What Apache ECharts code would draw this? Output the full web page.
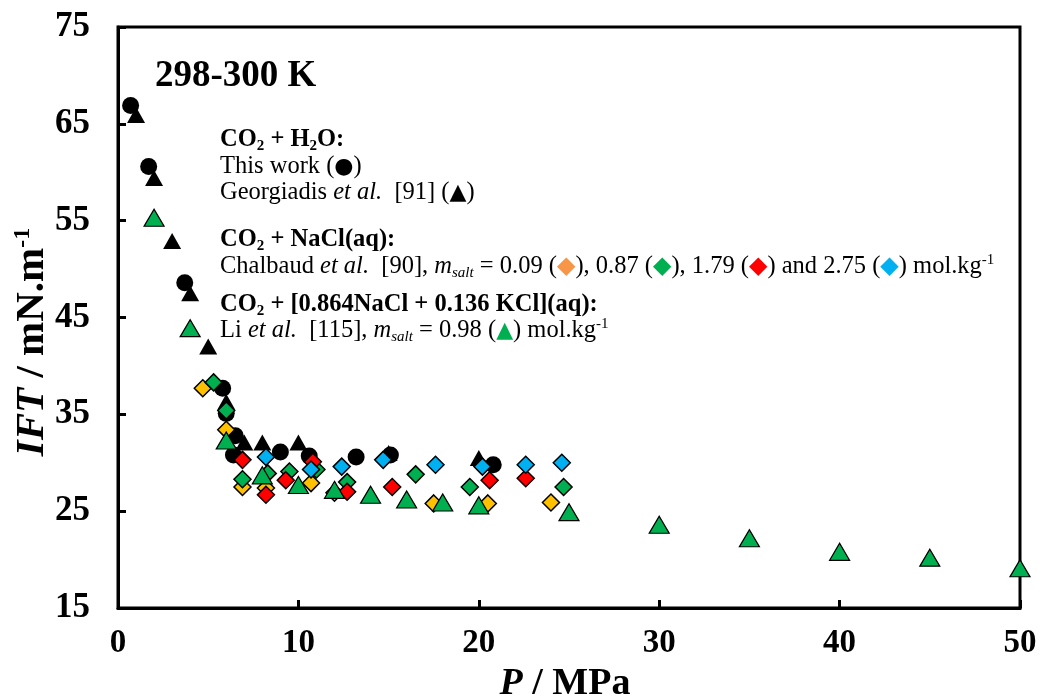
<!DOCTYPE html>
<html>
<head>
<meta charset="utf-8">
<script src="https://cdn.jsdelivr.net/npm/echarts@6/dist/echarts.min.js"></script>
<style>
  html, body { margin: 0; padding: 0; background: #fff; }
  #chart { width: 1042px; height: 698px; }
</style>
</head>
<body>
<div id="chart"></div>
<script>
// axis ticks
var xTicks = [0, 10, 20, 30, 40, 50];
var yTicks = [15, 25, 35, 45, 55, 65, 75];

// CO2 + H2O, this work (P / MPa, IFT / mN.m-1)
var thisWork = [[0.7, 66.9], [1.7, 60.6], [3.7, 48.6], [5.8, 37.7], [6.0, 35.1], [6.5, 32.8],
  [6.4, 30.8], [9.0, 31.1], [10.6, 30.7], [13.2, 30.6], [15.1, 30.8], [20.8, 29.8]];
// Georgiadis et al. [91]
var georgiadis = [[1.0, 65.9], [2.0, 59.4], [3.0, 52.9], [4.0, 47.5], [5.0, 42.0], [6.0, 36.3],
  [7.0, 32.1], [8.0, 32.1], [10.0, 32.1], [15.0, 31.0], [20.0, 30.5]];
// Chalbaud et al. [90], NaCl(aq)
var chalbaud009 = [[4.7, 37.7], [6.0, 33.4], [6.9, 27.5], [8.2, 27.4], [10.7, 27.9], [12.0, 26.9],
  [17.5, 25.8], [20.5, 25.8], [24.0, 25.9]];
var chalbaud087 = [[5.3, 38.3], [6.0, 35.4], [6.9, 28.3], [8.3, 28.9], [9.5, 29.1], [11.0, 29.3],
  [12.7, 28.0], [16.5, 28.8], [19.5, 27.5], [24.7, 27.5]];
var chalbaud179 = [[6.9, 30.3], [8.2, 26.7], [9.3, 28.2], [10.8, 30.1], [12.7, 27.0], [15.2, 27.5],
  [20.6, 28.2], [22.6, 28.4]];
var chalbaud275 = [[8.2, 30.6], [10.7, 29.3], [12.4, 29.6], [14.7, 30.3], [17.6, 29.8], [20.2, 29.6],
  [22.6, 29.8], [24.6, 30.0]];
// Li et al. [115], 0.864NaCl + 0.136KCl
var li098 = [[2.0, 55.3], [4.0, 43.9], [6.0, 32.3], [8.0, 28.7], [10.0, 27.7], [12.0, 27.2],
  [14.0, 26.7], [16.0, 26.2], [18.0, 25.9], [20.0, 25.6], [25.0, 24.9], [30.0, 23.6],
  [35.0, 22.2], [40.0, 20.8], [45.0, 20.2], [50.0, 19.1]];

var serif = 'Liberation Serif';
var chart = echarts.init(document.getElementById('chart'));

var rich = {
  b: { fontFamily: serif, fontWeight: 'bold', fontSize: 24.5, lineHeight: 28 },
  bs: { fontFamily: serif, fontWeight: 'bold', fontSize: 15, lineHeight: 14, verticalAlign: 'bottom' },
  r: { fontFamily: serif, fontSize: 24.5, lineHeight: 28 },
  i: { fontFamily: serif, fontStyle: 'italic', fontSize: 24.5, lineHeight: 28 },
  is: { fontFamily: serif, fontStyle: 'italic', fontSize: 15, lineHeight: 14, verticalAlign: 'bottom' },
  sup: { fontFamily: serif, fontSize: 15, lineHeight: 14, verticalAlign: 'top' },
  k: { fontFamily: 'DejaVu Sans', fontSize: 22, lineHeight: 28, fill: '#000' },
  o: { fontFamily: 'DejaVu Sans', fontSize: 24, lineHeight: 28, fill: '#F79646' },
  g: { fontFamily: 'DejaVu Sans', fontSize: 24, lineHeight: 28, fill: '#00B050' },
  rd: { fontFamily: 'DejaVu Sans', fontSize: 24, lineHeight: 28, fill: '#FF0000' },
  bl: { fontFamily: 'DejaVu Sans', fontSize: 24, lineHeight: 28, fill: '#00B0F0' },
  gt: { fontFamily: 'DejaVu Sans', fontSize: 22, lineHeight: 28, fill: '#00B050' }
};

function txt(x, y, text) {
  return {
    type: 'text', x: x, y: y, z: 100,
    style: { text: text, rich: rich, fill: '#000', verticalAlign: 'middle', align: 'left' }
  };
}

function diamonds(name, data, color) {
  return {
    name: name, type: 'scatter', data: data, symbol: 'diamond', symbolSize: 17,
    itemStyle: { color: color, borderColor: '#000', borderWidth: 1.5, opacity: 1 }
  };
}

chart.setOption({
  animation: false,
  backgroundColor: '#fff',
  grid: { left: 118, right: 22, top: 27, bottom: 90, show: true, borderColor: '#000', borderWidth: 3 },
  xAxis: {
    type: 'value', min: 0, max: 50,
    axisLine: { show: true, onZero: false, lineStyle: { color: '#000', width: 3 } },
    axisTick: { show: true, inside: true, length: 8, lineStyle: { color: '#000', width: 3 }, customValues: xTicks },
    axisLabel: { customValues: xTicks, margin: 19, color: '#000', fontFamily: serif, fontWeight: 'bold', fontSize: 33 },
    splitLine: { show: false }
  },
  yAxis: {
    type: 'value', min: 15, max: 75,
    axisLine: { show: true, onZero: false, lineStyle: { color: '#000', width: 3 } },
    axisTick: { show: true, inside: true, length: 8, lineStyle: { color: '#000', width: 3 }, customValues: yTicks },
    axisLabel: { customValues: yTicks, margin: 28, color: '#000', fontFamily: serif, fontWeight: 'bold', fontSize: 35 },
    splitLine: { show: false }
  },
  graphic: [
    {
      type: 'text', x: 155, y: 76, z: 100,
      style: { text: '298-300 K', fill: '#000', font: 'bold 37px "Liberation Serif"', verticalAlign: 'middle' }
    },
    txt(220, 140, '{b|CO}{bs|2}{b| + H}{bs|2}{b|O:}'),
    txt(220, 167, '{r|This work (}{k|●}{r|)}'),
    txt(220, 193, '{r|Georgiadis }{i|et al.}{r|  [91] (}{k|▲}{r|)}'),
    txt(220, 240, '{b|CO}{bs|2}{b| + NaCl(aq):}'),
    txt(220, 267, '{r|Chalbaud }{i|et al.}{r|  [90], }{i|m}{is|salt}{r| = 0.09 (}{o|◆}{r|), 0.87 (}{g|◆}{r|), 1.79 (}{rd|◆}{r|) and 2.75 (}{bl|◆}{r|) mol.kg}{sup|-1}'),
    txt(220, 305, '{b|CO}{bs|2}{b| + [0.864NaCl + 0.136 KCl](aq):}'),
    txt(220, 331, '{r|Li }{i|et al.}{r|  [115], }{i|m}{is|salt}{r| = 0.98 (}{gt|▲}{r|) mol.kg}{sup|-1}'),
    {
      type: 'text', x: 565, y: 684, z: 100,
      style: {
        text: '{bi|P}{bb| / MPa}', align: 'center', verticalAlign: 'middle',
        rich: {
          bi: { fontFamily: serif, fontWeight: 'bold', fontStyle: 'italic', fontSize: 38, lineHeight: 40 },
          bb: { fontFamily: serif, fontWeight: 'bold', fontSize: 38, lineHeight: 40 }
        }
      }
    },
    {
      type: 'text', x: 32, y: 342, z: 100, rotation: Math.PI / 2,
      style: {
        text: '{bi|IFT}{bb| / mN.m}{sp|-1}', align: 'center', verticalAlign: 'middle',
        rich: {
          bi: { fontFamily: serif, fontWeight: 'bold', fontStyle: 'italic', fontSize: 41, lineHeight: 42 },
          bb: { fontFamily: serif, fontWeight: 'bold', fontSize: 41, lineHeight: 42 },
          sp: { fontFamily: serif, fontWeight: 'bold', fontSize: 24, lineHeight: 24, verticalAlign: 'top' }
        }
      }
    }
  ],
  series: [
    { name: 'This work', type: 'scatter', data: thisWork, symbol: 'circle', symbolSize: 17,
      itemStyle: { color: '#000', opacity: 1 } },
    { name: 'Georgiadis', type: 'scatter', data: georgiadis, symbol: 'triangle', symbolSize: [18, 16],
      itemStyle: { color: '#000', opacity: 1 } },
    diamonds('0.09', chalbaud009, '#FFC000'),
    diamonds('0.87', chalbaud087, '#00B050'),
    diamonds('1.79', chalbaud179, '#FF0000'),
    diamonds('2.75', chalbaud275, '#00B0F0'),
    { name: 'Li', type: 'scatter', data: li098, symbol: 'triangle', symbolSize: [20, 17],
      itemStyle: { color: '#00B050', borderColor: '#000', borderWidth: 1.2, opacity: 1 } }
  ]
});
</script>
</body>
</html>
